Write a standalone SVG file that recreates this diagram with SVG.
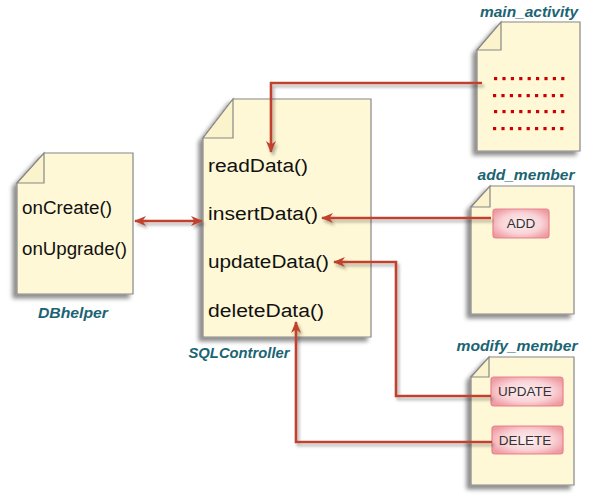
<svg xmlns="http://www.w3.org/2000/svg" width="596" height="501" viewBox="0 0 596 501">
<defs>
<filter id="sh" x="-20%" y="-20%" width="140%" height="140%">
<feDropShadow dx="-4" dy="4" stdDeviation="2" flood-color="#000" flood-opacity="0.45"/>
</filter>
<filter id="lsh" x="-10%" y="-10%" width="120%" height="120%">
<feDropShadow dx="2" dy="3" stdDeviation="1.5" flood-color="#000" flood-opacity="0.3"/>
</filter>
<radialGradient id="btn" cx="50%" cy="50%" r="60%">
<stop offset="0" stop-color="#fdf0f1"/>
<stop offset="0.6" stop-color="#f9d3d7"/>
<stop offset="1" stop-color="#ef9ba3"/>
</radialGradient>
<marker id="ah" viewBox="0 0 12 10" refX="11" refY="5" markerWidth="12" markerHeight="10" markerUnits="userSpaceOnUse" orient="auto-start-reverse">
<path d="M0,0 L12,5 L0,10 L3.5,5 Z" fill="#c0432d"/>
</marker>
</defs>
<style>
.doc{fill:#fff8d6;stroke:#888;stroke-width:1.2}
.fold{fill:#fbf3cc;stroke:#888;stroke-width:1.2}
.m{font-family:"Liberation Sans",Arial,sans-serif;font-size:18px;fill:#111}
.lbl{font-family:"Liberation Sans",Arial,sans-serif;font-size:15px;font-weight:bold;font-style:italic;fill:#1b6473;text-anchor:middle}
.b{fill:url(#btn);stroke:#e8838c;stroke-width:1.2}
.bt{font-family:"Liberation Sans",Arial,sans-serif;font-size:13.5px;fill:#333;text-anchor:middle}
.c{fill:none;stroke:#c0432d;stroke-width:2.6}
.dot{fill:#cc0000}
</style>

<g id="dbhelper">
<path class="doc" filter="url(#sh)" d="M17,183 L44,153 H133 V294 H17 Z"/>
<path class="fold" d="M44,153 V183 H17 Z"/>
<text class="m" x="22" y="214" textLength="90" lengthAdjust="spacingAndGlyphs">onCreate()</text>
<text class="m" x="22" y="255" textLength="105" lengthAdjust="spacingAndGlyphs">onUpgrade()</text>
<text class="lbl" x="73" y="318" textLength="70" lengthAdjust="spacingAndGlyphs">DBhelper</text>
</g>

<g id="sqlcontroller">
<path class="doc" filter="url(#sh)" d="M203,138 L233,99 H371 V337 H203 Z"/>
<path class="fold" d="M233,99 V138 H203 Z"/>
<text class="m" x="208" y="172" textLength="100" lengthAdjust="spacingAndGlyphs">readData()</text>
<text class="m" x="208" y="220" textLength="110" lengthAdjust="spacingAndGlyphs">insertData()</text>
<text class="m" x="208" y="268" textLength="121" lengthAdjust="spacingAndGlyphs">updateData()</text>
<text class="m" x="208" y="317" textLength="116" lengthAdjust="spacingAndGlyphs">deleteData()</text>
<text class="lbl" x="239" y="358" textLength="101" lengthAdjust="spacingAndGlyphs">SQLController</text>
</g>

<g id="main_activity">
<path class="doc" filter="url(#sh)" d="M477,50 L501,22 H580 V151 H477 Z"/>
<path class="fold" d="M501,22 V50 H477 Z"/>
<g class="dot">
<rect x="494" y="77" width="3.2" height="3.2"/><rect x="502.4" y="77" width="3.2" height="3.2"/><rect x="510.8" y="77" width="3.2" height="3.2"/><rect x="519.2" y="77" width="3.2" height="3.2"/><rect x="527.6" y="77" width="3.2" height="3.2"/><rect x="536" y="77" width="3.2" height="3.2"/><rect x="544.4" y="77" width="3.2" height="3.2"/><rect x="552.8" y="77" width="3.2" height="3.2"/><rect x="561.2" y="77" width="3.2" height="3.2"/>
<rect x="493" y="94" width="3.2" height="3.2"/><rect x="501.4" y="94" width="3.2" height="3.2"/><rect x="509.8" y="94" width="3.2" height="3.2"/><rect x="518.2" y="94" width="3.2" height="3.2"/><rect x="526.6" y="94" width="3.2" height="3.2"/><rect x="535" y="94" width="3.2" height="3.2"/><rect x="543.4" y="94" width="3.2" height="3.2"/><rect x="551.8" y="94" width="3.2" height="3.2"/><rect x="560.2" y="94" width="3.2" height="3.2"/>
<rect x="494" y="110" width="3.2" height="3.2"/><rect x="502.4" y="110" width="3.2" height="3.2"/><rect x="510.8" y="110" width="3.2" height="3.2"/><rect x="519.2" y="110" width="3.2" height="3.2"/><rect x="527.6" y="110" width="3.2" height="3.2"/><rect x="536" y="110" width="3.2" height="3.2"/><rect x="544.4" y="110" width="3.2" height="3.2"/><rect x="552.8" y="110" width="3.2" height="3.2"/><rect x="561.2" y="110" width="3.2" height="3.2"/>
<rect x="493" y="127" width="3.2" height="3.2"/><rect x="501.4" y="127" width="3.2" height="3.2"/><rect x="509.8" y="127" width="3.2" height="3.2"/><rect x="518.2" y="127" width="3.2" height="3.2"/><rect x="526.6" y="127" width="3.2" height="3.2"/><rect x="535" y="127" width="3.2" height="3.2"/><rect x="543.4" y="127" width="3.2" height="3.2"/><rect x="551.8" y="127" width="3.2" height="3.2"/><rect x="560.2" y="127" width="3.2" height="3.2"/>
</g>
<text class="lbl" x="529" y="17" textLength="98" lengthAdjust="spacingAndGlyphs">main_activity</text>
</g>

<g id="add_member">
<path class="doc" filter="url(#sh)" d="M471,207 L490,186 H574 V314 H471 Z"/>
<path class="fold" d="M490,186 V207 H471 Z"/>
<rect class="b" x="493" y="209" width="56" height="29" rx="3"/>
<text class="bt" x="521" y="228">ADD</text>
<text class="lbl" x="526" y="180" textLength="97" lengthAdjust="spacingAndGlyphs">add_member</text>
</g>

<g id="modify_member">
<path class="doc" filter="url(#sh)" d="M471,377 L489,357 H574 V485 H471 Z"/>
<path class="fold" d="M489,357 V377 H471 Z"/>
<rect class="b" x="491" y="377" width="72" height="29" rx="3"/>
<text class="bt" x="525" y="396">UPDATE</text>
<rect class="b" x="492" y="426" width="71" height="28" rx="3"/>
<text class="bt" x="525" y="445">DELETE</text>
<text class="lbl" x="517" y="351" textLength="121" lengthAdjust="spacingAndGlyphs">modify_member</text>
</g>

<g id="connectors" filter="url(#lsh)">
<path class="c" d="M482,83 H271 V152" marker-end="url(#ah)"/>
<path class="c" d="M135,221 H202" marker-start="url(#ah)" marker-end="url(#ah)"/>
<path class="c" d="M491,218 H322" marker-end="url(#ah)"/>
<path class="c" d="M491,396 H396 V262 H334" marker-end="url(#ah)"/>
<path class="c" d="M492,442 H296 V322" marker-end="url(#ah)"/>
</g>
</svg>
